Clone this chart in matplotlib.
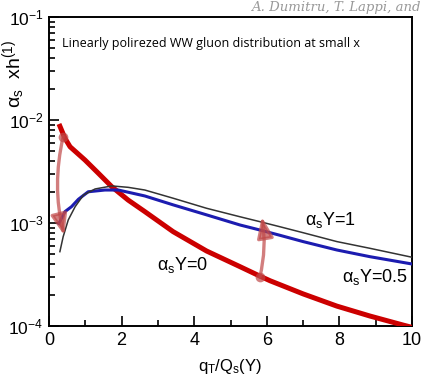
import matplotlib
matplotlib.use("Agg")
import matplotlib.pyplot as plt
from matplotlib.patches import FancyArrowPatch

plt.rcParams['font.family'] = ['Liberation Sans', 'DejaVu Sans']
plt.rcParams['mathtext.fontset'] = 'custom'
plt.rcParams['mathtext.rm'] = 'Liberation Sans'
plt.rcParams['mathtext.it'] = 'Liberation Sans'
plt.rcParams['mathtext.bf'] = 'Liberation Sans:bold'

# alpha_s Y = 0 (red)
x_red = [0.275, 0.44, 0.58, 0.99, 1.36, 1.73, 2.18, 2.64, 3.42, 4.34, 5.26, 5.81, 6.09, 7.0, 7.93, 8.84, 9.76, 10.0]
y_red = [0.00915, 0.00664, 0.0055, 0.00409, 0.00304, 0.00225, 0.00167, 0.00129, 0.000824, 0.000535,
         0.000377, 0.000305, 0.000275, 0.000205, 0.000156, 0.000125, 0.000102, 0.000097]

# alpha_s Y = 0.5 (blue)
x_blue = [0.275, 0.44, 0.62, 0.81, 1.08, 1.54, 1.91, 2.64, 3.42, 4.34, 5.26, 5.81, 6.36, 7.0, 7.93, 8.84, 10.0]
y_blue = [0.00099, 0.00129, 0.00144, 0.0017, 0.00201, 0.00209, 0.00209, 0.00183, 0.0015, 0.0012,
          0.000957, 0.000855, 0.00076, 0.00066, 0.000547, 0.000471, 0.0004]

# alpha_s Y = 1 (black)
x_blk = [0.3, 0.39, 0.53, 0.72, 0.95, 1.27, 1.73, 2.18, 2.64, 3.42, 4.34, 5.26, 5.81, 6.36, 7.0, 7.93, 8.84, 10.0]
y_blk = [0.000527, 0.000736, 0.00107, 0.00144, 0.00187, 0.00214, 0.00229, 0.00222, 0.00209, 0.00174,
         0.00139, 0.00115, 0.00103, 0.00092, 0.000805, 0.00066, 0.000568, 0.000465]

# evolution arrows: (x_start, y_start, x_end, y_end)
arrow1 = (0.39, 0.0069, 0.42, 0.00076)
arrow2 = (5.81, 0.000299, 5.86, 0.00115)

fig = plt.figure(figsize=(4.23, 3.76), dpi=100)
ax = fig.add_axes([49 / 423, 50 / 376, 363 / 423, 309 / 376])

ax.plot(x_red, y_red, color='#cc0000', lw=3.6, solid_capstyle='butt', zorder=3)
ax.plot(x_blue, y_blue, color='#1c1cb0', lw=2.2, zorder=3)
ax.plot(x_blk, y_blk, color='#333333', lw=1.1, zorder=3)

acol = '#c04848'
for (xs, ys, xe, ye), rad in [(arrow1, 0.12), (arrow2, 0.1)]:
    ax.plot([xs], [ys], 'o', color=acol, alpha=0.7, ms=7, mec='none', zorder=4)
    arr = FancyArrowPatch((xs, ys), (xe, ye), connectionstyle=f"arc3,rad={rad}",
                          arrowstyle='-|>,head_length=0.9,head_width=0.35', mutation_scale=14,
                          color=acol, alpha=0.7, lw=2.4, shrinkA=0, shrinkB=0, zorder=4)
    ax.add_patch(arr)

ax.set_yscale('log')
ax.set_xlim(0, 10)
ax.set_ylim(1e-4, 1e-1)
ax.set_xticks([0, 2, 4, 6, 8, 10])
ax.set_xticks([1, 3, 5, 7, 9], minor=True)
ax.tick_params(which='both', direction='in', top=False, right=False, width=1.2)
ax.tick_params(axis='x', labelsize=13)
ax.tick_params(axis='y', labelsize=12.5)
ax.tick_params(which='major', length=7, pad=4)
ax.tick_params(which='minor', length=4)
for s in ax.spines.values():
    s.set_linewidth(1.4)

ax.set_xlabel(r'q$_\mathrm{T}$/Q$_\mathrm{s}$(Y)', fontsize=12, labelpad=6)
ax.set_ylabel(r'$\alpha_\mathrm{s}$  xh$^{(1)}$', fontsize=14)
ax.yaxis.set_label_coords(-0.061, 0.817)

ax.text(0.035, 0.915, 'Linearly polirezed WW gluon distribution at small x',
        transform=ax.transAxes, fontsize=9, family='Open Sans', va='center')
ax.text(7.05, 9.6e-4, r'$\alpha_\mathrm{s}$Y=1', fontsize=13)
ax.text(8.06, 2.7e-4, r'$\alpha_\mathrm{s}$Y=0.5', fontsize=13)
ax.text(2.98, 3.5e-4, r'$\alpha_\mathrm{s}$Y=0', fontsize=13)

fig.text(0.995, 0.997, 'A. Dumitru, T. Lappi, and', ha='right', va='top',
         fontsize=9.5, family='DejaVu Serif', style='italic', color='#999999')

fig.savefig('out.png', dpi=100)
